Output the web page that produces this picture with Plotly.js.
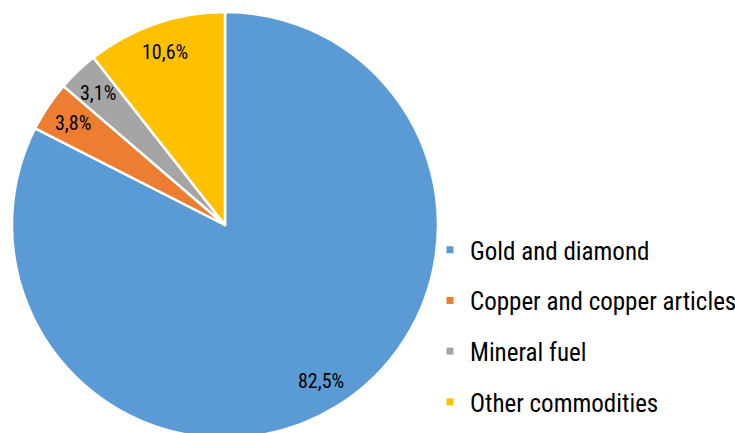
<!DOCTYPE html>
<html>
<head>
<meta charset="utf-8">
<script src="https://cdn.plot.ly/plotly-3.0.1.min.js"></script>
<style>
html,body{margin:0;padding:0;overflow:hidden;background:#fff;width:735px;height:433px;}
#chart{width:735px;height:460px;}
</style>
</head>
<body>
<div id="chart"></div>
<script>
const categories = ["Gold and diamond", "Copper and copper articles", "Mineral fuel", "Other commodities"];
const shares = [82.5, 3.8, 3.1, 10.6];
const colors = ["#5B9BD5", "#ED7D31", "#A5A5A5", "#FFC000"];

const FONT = "'Roboto Condensed', 'Liberation Sans Narrow', Roboto, sans-serif";
const H = 460, W = 735;
const pieLeft = 12, pieTop = 12, pieSize = 426;

// data labels placed along each slice's bisector, derived from the values
const total = shares.reduce((a, b) => a + b, 0);
const cxPx = pieLeft + pieSize / 2, cyPx = pieTop + pieSize / 2;
const labelRadius = 0.86 * pieSize / 2;
let cum = 0;
const annotations = shares.map((v) => {
  const mid = (cum + v / 2) / total;
  cum += v;
  const a = 2 * Math.PI * mid;
  return {
    xref: "paper", yref: "paper",
    x: (cxPx + Math.sin(a) * labelRadius) / W,
    y: 1 - (cyPx - Math.cos(a) * labelRadius) / H,
    xanchor: "center", yanchor: "middle",
    text: v.toFixed(1).replace(".", ",") + "%",
    showarrow: false,
    font: {family: FONT, size: 20, color: "#000000", weight: 400}
  };
});

const traces = [{
  type: "pie",
  labels: categories,
  values: shares,
  sort: false,
  direction: "clockwise",
  rotation: 0,
  marker: {colors: colors, line: {color: "#ffffff", width: 2.5}},
  textinfo: "none",
  showlegend: false,
  hoverinfo: "label+percent",
  domain: {x: [pieLeft / W, (pieLeft + pieSize) / W], y: [1 - (pieTop + pieSize) / H, 1 - pieTop / H]}
}];

categories.forEach((c, i) => {
  traces.push({
    type: "scatter",
    mode: "markers",
    x: [null], y: [null],
    name: c,
    legendgroup: "g" + i,
    marker: {symbol: "square", size: 7, color: colors[i]},
    showlegend: true,
    hoverinfo: "skip"
  });
});

const layout = {
  width: W, height: H,
  margin: {l: 0, r: 0, t: 0, b: 0, autoexpand: false},
  paper_bgcolor: "#ffffff",
  plot_bgcolor: "rgba(0,0,0,0)",
  xaxis: {visible: false, range: [0, 1]},
  yaxis: {visible: false, range: [0, 1]},
  showlegend: true,
  legend: {
    x: 430 / W, xanchor: "left",
    y: 1 - 227 / H, yanchor: "top",
    font: {family: FONT, size: 25, color: "#000000", weight: 400},
    tracegroupgap: 15.2,
    itemwidth: 30,
    bgcolor: "rgba(0,0,0,0)"
  },
  annotations: annotations
};

Plotly.newPlot("chart", traces, layout, {displayModeBar: false, staticPlot: true});
</script>
</body>
</html>
